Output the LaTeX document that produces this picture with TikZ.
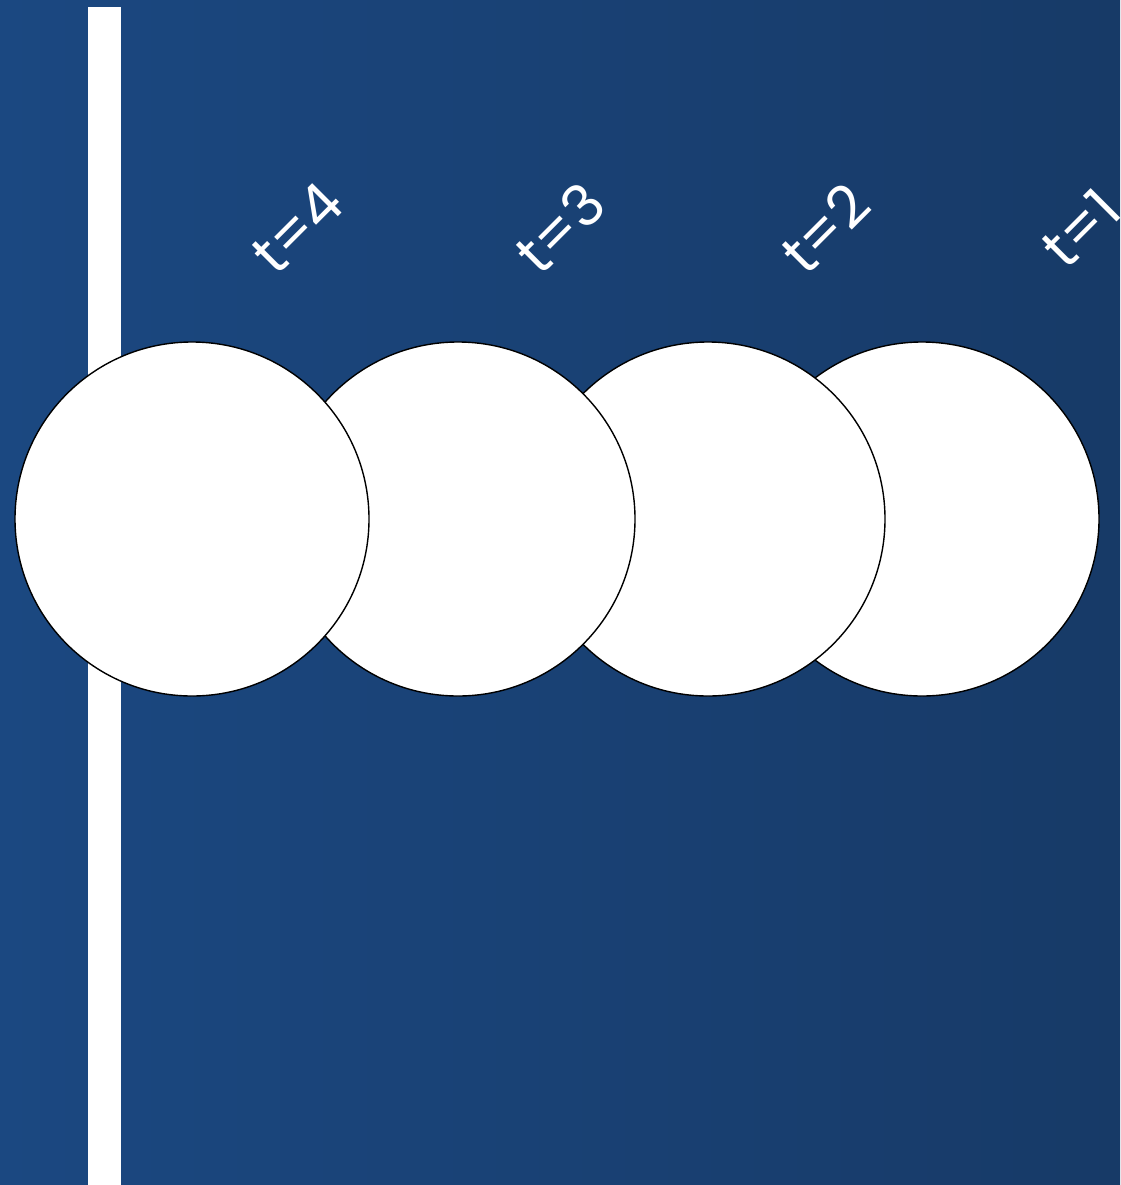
\documentclass[tikz,border=0pt]{standalone}
\usepackage{fontspec}
\setmainfont{Poppins}
\usetikzlibrary{positioning}
\definecolor{bgleft}{HTML}{1B4881}
\definecolor{bgright}{HTML}{173A67}

\begin{document}
\begin{tikzpicture}[x=1pt,y=-1pt,
  ball/.style={draw=black,circle,fill=white,line width=1.4pt,minimum size=354pt,inner sep=0pt},
  tlabel/.style={text=white,rotate=45,font=\fontsize{58}{58}\selectfont}]
\useasboundingbox (0,0) rectangle (1120,1185);
\shade[left color=bgleft,right color=bgright] (0,0) rectangle (1120,1185);
\fill[white] (88,7) rectangle (121,1185);
\node[ball] (b1) at (922,519) {};
\node[ball] (b2) at (708,519) {};
\node[ball] (b3) at (458,519) {};
\node[ball] (b4) at (192,519) {};
\node[tlabel] (l4) at (297,228) {t=4};
\node[tlabel] (l3) at (560,228) {t=3};
\node[tlabel] (l2) at (825,228) {t=2};
\node[tlabel] (l1) at (1081,228) {t=1};
\end{tikzpicture}
\end{document}
